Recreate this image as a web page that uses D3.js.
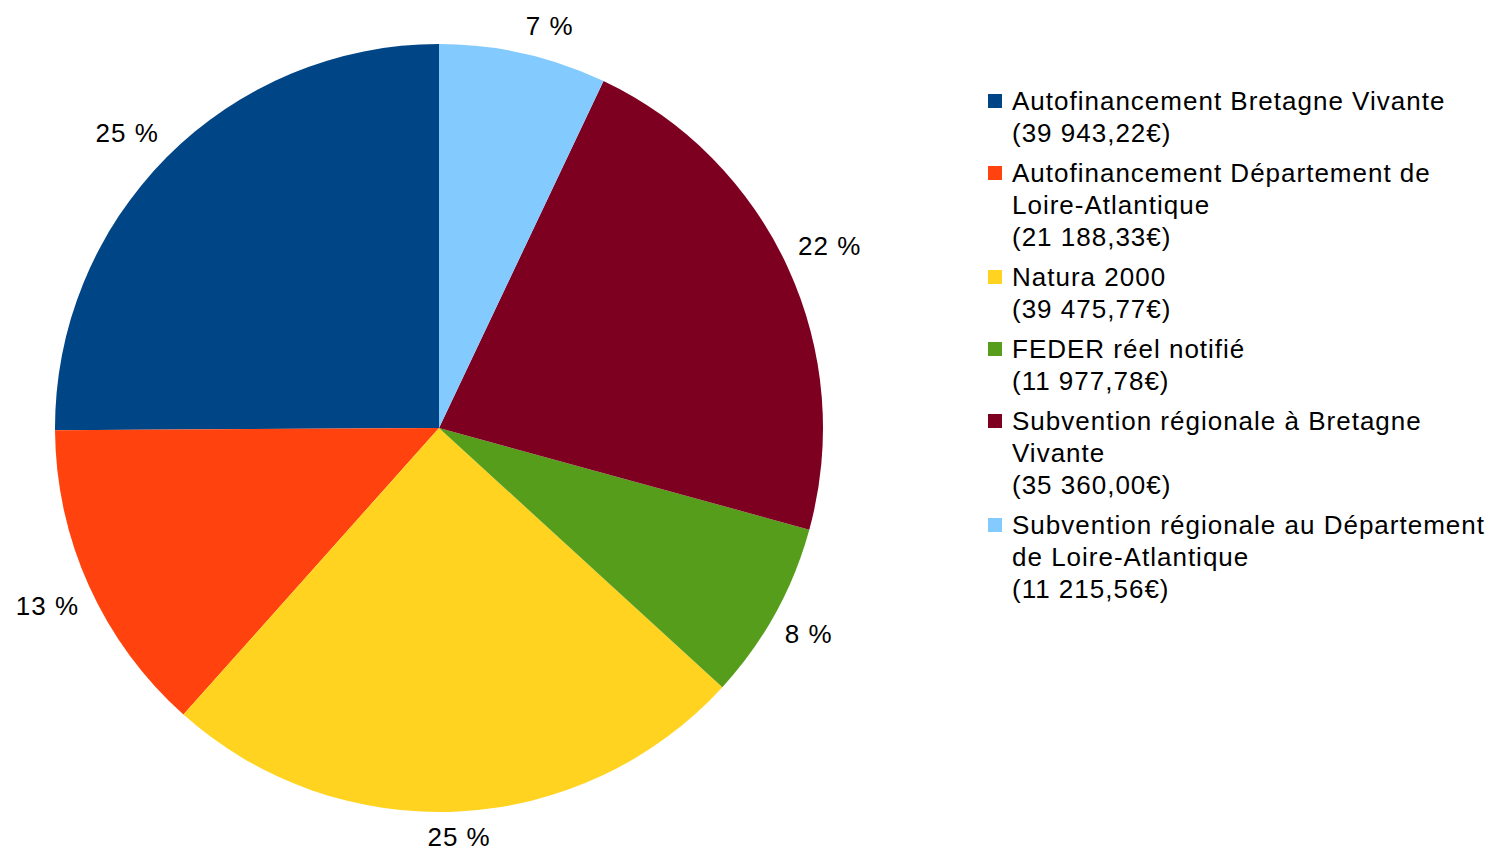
<!DOCTYPE html>
<html>
<head>
<meta charset="utf-8">
<script src="https://cdn.jsdelivr.net/npm/d3@7"></script>
<style>
  html, body { margin: 0; padding: 0; background: #fff; }
  svg { display: block; font-family: "Liberation Sans", Arial, sans-serif; }
</style>
</head>
<body>
<svg id="chart"></svg>
<script>
// data
const categories = [
  "Autofinancement Bretagne Vivante",
  "Autofinancement Département de Loire-Atlantique",
  "Natura 2000",
  "FEDER réel notifié",
  "Subvention régionale à Bretagne Vivante",
  "Subvention régionale au Département de Loire-Atlantique"
];
const amounts = [39943.22, 21188.33, 39475.77, 11977.78, 35360.00, 11215.56];
const colors = ["#004586", "#ff420e", "#ffd320", "#579d1c", "#7e0021", "#83caff"];

const width = 1488, height = 852;
const cx = 439, cy = 428, radius = 384;
const fontSize = 26, letterSp = 1;

const svg = d3.select("#chart").attr("width", width).attr("height", height);

const fr = d3.formatLocale({decimal: ",", thousands: " ", grouping: [3], currency: ["", "€"]});
const fmtMoney = fr.format(",.2f");
const total = d3.sum(amounts);

// counterclockwise from 12 o'clock, like LibreOffice
const pie = d3.pie().sort(null).value(d => d).startAngle(0).endAngle(-2 * Math.PI);
const arcs = pie(amounts);
const arc = d3.arc().innerRadius(0).outerRadius(radius);

const g = svg.append("g").attr("transform", `translate(${cx},${cy})`);

g.selectAll("path")
  .data(arcs)
  .join("path")
  .attr("d", arc)
  .attr("fill", (d, i) => colors[i]);

// percentage labels, box corner touching a point just outside the pie
const labelR = radius + 11, halfUp = 17, halfDown = 15;
g.selectAll("text.pct")
  .data(arcs)
  .join("text")
  .attr("class", "pct")
  .attr("font-size", fontSize)
  .attr("letter-spacing", letterSp)
  .attr("fill", "#000")
  .attr("dominant-baseline", "central")
  .each(function(d) {
    const a = (d.startAngle + d.endAngle) / 2;
    const s = Math.sin(a), c = Math.cos(a);
    const x = labelR * s, y = -labelR * c;
    const anchor = Math.abs(s) < 0.1 ? "middle" : (s > 0 ? "start" : "end");
    const dy = Math.abs(c) < 0.1 ? 0 : (c > 0 ? -halfUp : halfDown);
    d3.select(this)
      .attr("x", x)
      .attr("y", y + dy)
      .attr("text-anchor", anchor)
      .text(Math.round(d.value / total * 100) + " %");
  });

// legend
const legX = 988, legTextX = 1012, legTop = 101, lineH = 32, entryGap = 8, maxW = 478;
const legend = svg.append("g");
let yLine = legTop;

categories.forEach((name, i) => {
  const entry = legend.append("g");
  entry.append("rect")
    .attr("x", legX)
    .attr("y", yLine - 7)
    .attr("width", 14)
    .attr("height", 14)
    .attr("fill", colors[i]);

  // wrap the name to the legend width
  const words = name.split(" ");
  const lines = [];
  let cur = "";
  const probe = entry.append("text")
    .attr("font-size", fontSize)
    .attr("letter-spacing", letterSp);
  words.forEach(w => {
    const test = cur ? cur + " " + w : w;
    probe.text(test);
    if (cur && probe.node().getComputedTextLength() > maxW) {
      lines.push(cur);
      cur = w;
    } else {
      cur = test;
    }
  });
  lines.push(cur);
  probe.remove();
  lines.push("(" + fmtMoney(amounts[i]) + "€)");

  lines.forEach((ln, j) => {
    entry.append("text")
      .attr("x", legTextX)
      .attr("y", yLine + j * lineH)
      .attr("dominant-baseline", "central")
      .attr("font-size", fontSize)
      .attr("letter-spacing", letterSp)
      .attr("fill", "#000")
      .text(ln);
  });
  yLine += lines.length * lineH + entryGap;
});
</script>
</body>
</html>
